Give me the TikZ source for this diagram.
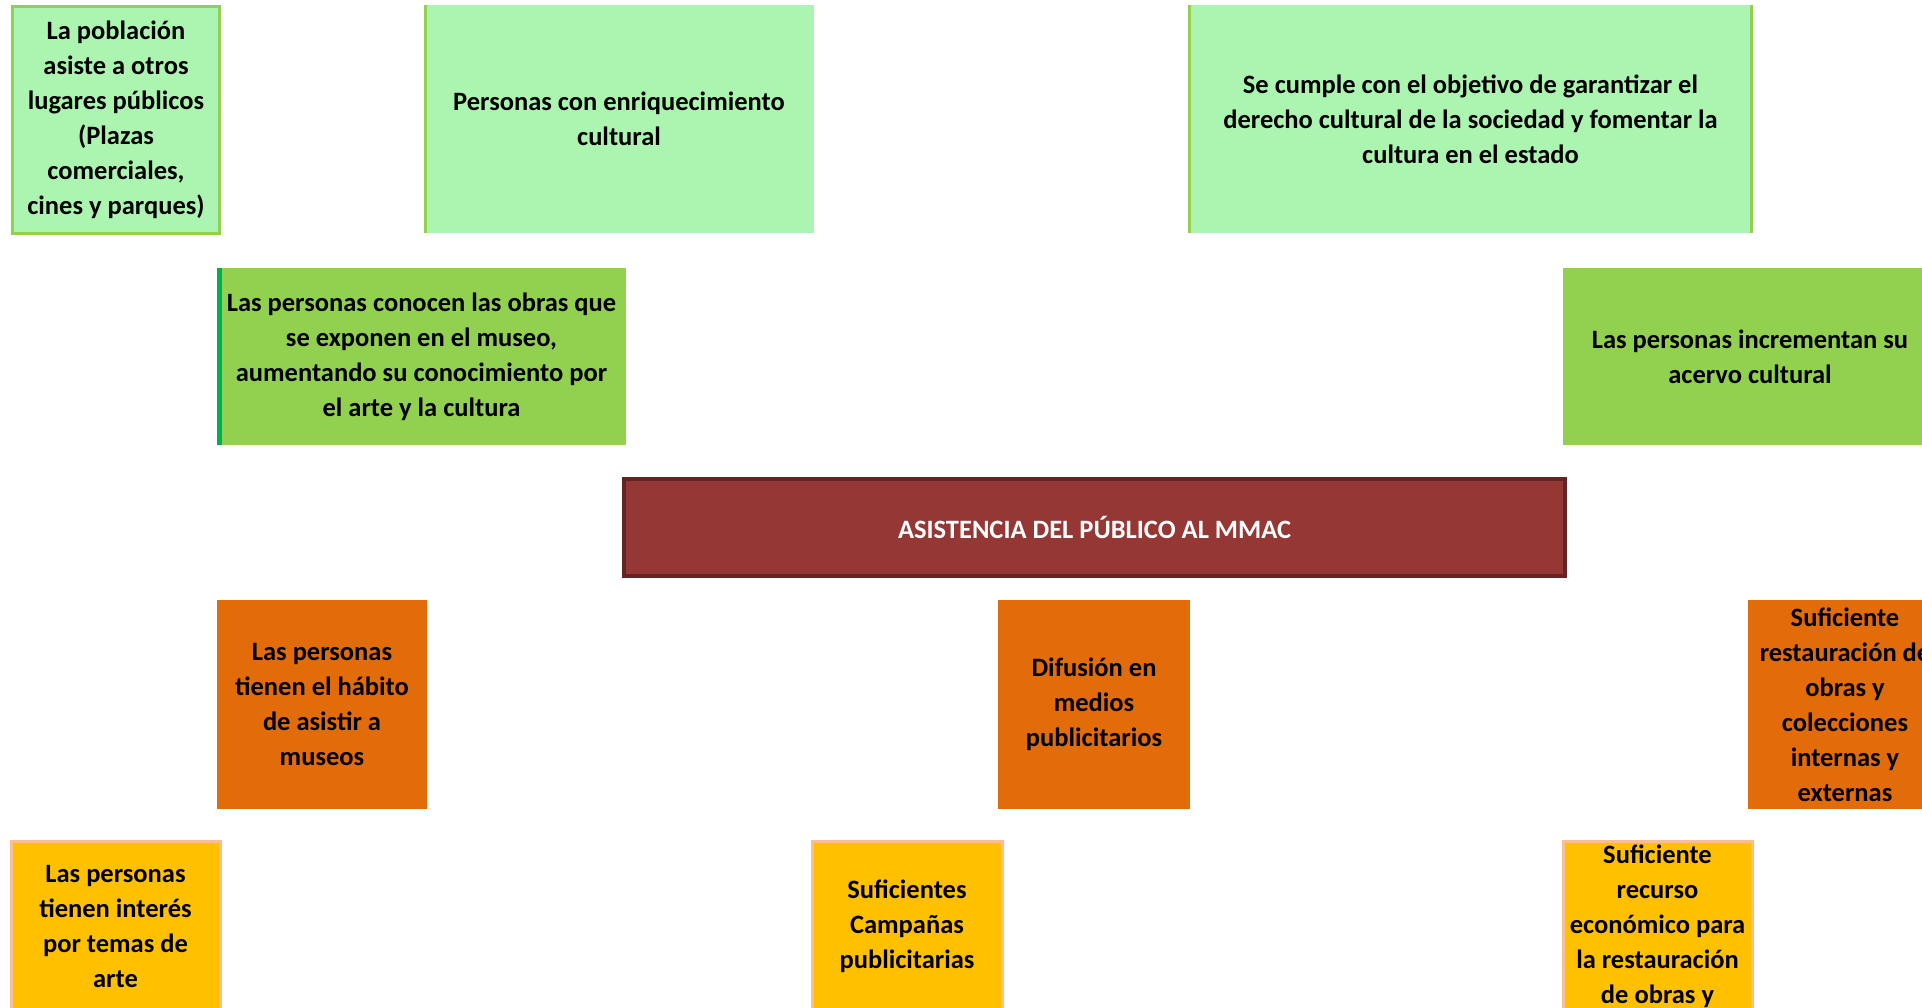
\documentclass[tikz,border=0pt]{standalone}
\usepackage{fontspec}
\setmainfont{Carlito}
\usepackage{tikz}

\definecolor{verdeclaro}{HTML}{ABF5B1}
\definecolor{verde}{HTML}{92D050}
\definecolor{verdeosc}{HTML}{00B050}
\definecolor{rojo}{HTML}{953735}
\definecolor{rojoosc}{HTML}{632523}
\definecolor{naranja}{HTML}{E26B0A}
\definecolor{amarillo}{HTML}{FFC000}
\definecolor{durazno}{HTML}{FABF8F}

\tikzset{
  caja/.style={inner sep=0pt, align=center,
    font=\fontsize{26.5}{35}\selectfont\bfseries},
  fin/.style={caja, fill=verdeclaro},
  efecto/.style={caja, fill=verde},
  problema/.style={caja, fill=rojo, draw=rojoosc, line width=4pt, text=white},
  causa/.style={caja, fill=naranja},
  raiz/.style={caja, fill=amarillo, draw=durazno, line width=3pt},
  borde/.style={verde, line width=3pt}
}

\begin{document}
\begin{tikzpicture}[x=1pt,y=-1pt]
\path[use as bounding box, clip] (0,0) rectangle (1922,1008);

% fines
\node[fin, draw=verde, line width=3pt, minimum width=207, minimum height=227]
  (finA) at (116,120) {La población\\asiste a otros\\lugares públicos\\(Plazas\\comerciales,\\cines y parques)};
\node[fin, minimum width=390, minimum height=228]
  (finB) at (619,119) {Personas con enriquecimiento\\cultural};
\node[fin, minimum width=565, minimum height=228]
  (finC) at (1470.5,119) {Se cumple con el objetivo de garantizar el\\derecho cultural de la sociedad y fomentar la\\cultura en el estado};
\draw[borde] ([xshift=1.5pt]finB.north west) -- ([xshift=1.5pt]finB.south west);
\draw[borde] ([xshift=1.5pt]finC.north west) -- ([xshift=1.5pt]finC.south west);
\draw[borde] ([xshift=-1.5pt]finC.north east) -- ([xshift=-1.5pt]finC.south east);

% efectos
\node[efecto, minimum width=409, minimum height=177]
  (efD) at (421.5,356.5) {Las personas conocen las obras que\\se exponen en el museo,\\aumentando su conocimiento por\\el arte y la cultura};
\node[efecto, minimum width=374, minimum height=177]
  (efE) at (1750,356.5) {Las personas incrementan su\\acervo cultural};
\draw[verdeosc, line width=5pt] ([xshift=2.5pt]efD.north west) -- ([xshift=2.5pt]efD.south west);

% problema central
\node[problema, minimum width=941, minimum height=97]
  (prob) at (1094.5,527.5) {ASISTENCIA DEL PÚBLICO AL MMAC};

% causas
\node[causa, minimum width=210, minimum height=209]
  (causa1) at (322,704.5) {Las personas\\tienen el hábito\\de asistir a\\museos};
\node[causa, minimum width=192, minimum height=209]
  (causa2) at (1094,704.5) {Difusión en\\medios\\publicitarios};
\node[causa, minimum width=194, minimum height=209]
  (causa3) at (1845,704.5) {Suficiente\\restauración de\\obras y\\colecciones\\internas y\\externas};

% causas raiz
\node[raiz, minimum width=209, minimum height=170]
  (raiz1) at (115.5,926) {Las personas\\tienen interés\\por temas de\\arte};
\node[raiz, minimum width=190, minimum height=170]
  (raiz2) at (907,926) {Suficientes\\Campañas\\publicitarias};
\node[raiz, minimum width=189, minimum height=170]
  (raiz3) at (1657.5,926) {Suficiente\\recurso\\económico para\\la restauración\\de obras y};

\end{tikzpicture}
\end{document}
